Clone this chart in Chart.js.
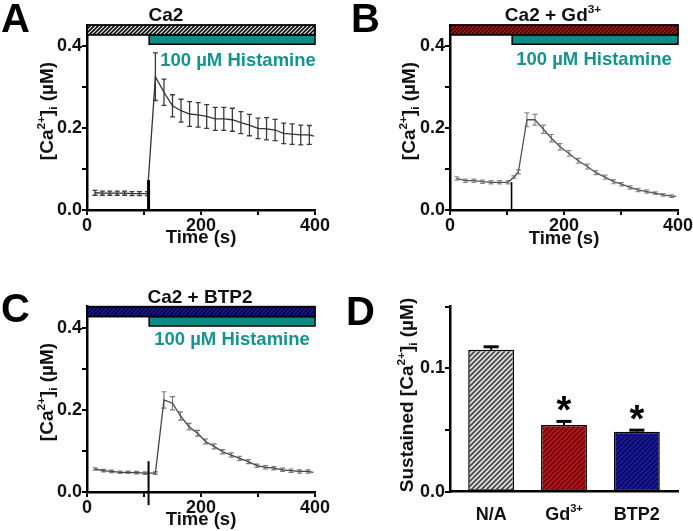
<!DOCTYPE html>
<html><head><meta charset="utf-8">
<script src="https://cdn.jsdelivr.net/npm/chart.js@4.4.0/dist/chart.umd.min.js"></script>
<style>
html,body{margin:0;padding:0;background:#fff;}
#wrap{position:relative;width:693px;height:531px;overflow:hidden;background:#fff;}
canvas{position:absolute;}
</style></head><body>
<div id="wrap">
<canvas id="cA" width="346" height="265" style="left:0;top:0;width:346px;height:265px"></canvas>
<canvas id="cB" width="347" height="265" style="left:346px;top:0;width:347px;height:265px"></canvas>
<canvas id="cC" width="346" height="266" style="left:0;top:265px;width:346px;height:266px"></canvas>
<canvas id="cD" width="347" height="266" style="left:346px;top:265px;width:347px;height:266px"></canvas>
</div>
<script>
// ---------------- DATA ----------------
const xTickLabels = [0, 200, 400];
const yTickLabelsTrace = [0.0, 0.2, 0.4];
const yTickLabelsBar = [0.0, 0.1];

// Panel A: Ca2
const timeA = [14,27,40,53,66,79,92,106,120,135,150,165,180,195,210,225,240,255,270,285,300,315,330,345,360,375,390,398];
const caA   = [0.042,0.041,0.041,0.041,0.041,0.040,0.040,0.040,0.325,0.287,0.254,0.242,0.234,0.232,0.228,0.222,0.222,0.220,0.213,0.207,0.199,0.198,0.195,0.187,0.185,0.183,0.183,0.180];
const errA  = [0.006,0.005,0.005,0.005,0.005,0.005,0.005,0.005,0.058,0.032,0.027,0.028,0.030,0.030,0.029,0.028,0.028,0.028,0.027,0.026,0.025,0.027,0.026,0.025,0.025,0.024,0.023,0];

// Panel B: Ca2 + Gd3+
const timeB = [12,27,42,57,72,87,102,112,120,135,149,164,178,193,209,225,241,256,272,287,301,316,330,345,360,374,389,397];
const caB   = [0.077,0.0715,0.0715,0.069,0.0675,0.0675,0.0675,0.080,0.093,0.220,0.220,0.197,0.175,0.154,0.138,0.120,0.106,0.091,0.080,0.069,0.063,0.055,0.049,0.045,0.041,0.037,0.034,0.033];
const errB  = [0.004,0.004,0.004,0.004,0.004,0.004,0.004,0.003,0.005,0.017,0.013,0.010,0.009,0.008,0.007,0.006,0.006,0.005,0.005,0.005,0.004,0.004,0.004,0.004,0.003,0.003,0.003,0];

// Panel C: Ca2 + BTP2
const timeC = [14,29,43,58,72,87,102,120,135,150,164,179,194,208,223,238,253,268,283,298,313,328,343,358,373,388,397];
const caC   = [0.056,0.052,0.050,0.048,0.048,0.047,0.046,0.046,0.224,0.216,0.185,0.159,0.143,0.123,0.111,0.098,0.090,0.082,0.074,0.064,0.060,0.058,0.054,0.052,0.050,0.050,0.048];
const errC  = [0.003,0.003,0.003,0.003,0.003,0.003,0.003,0.003,0.020,0.016,0.010,0.008,0.007,0.006,0.006,0.005,0.005,0.005,0.005,0.004,0.004,0.004,0.004,0.004,0.004,0.004,0];

// Panel D: sustained
const categoriesD = ['N/A', 'Gd3+', 'BTP2'];
const sustainedD  = [0.115, 0.054, 0.0487];
const sustainedErr = [0.0025, 0.003, 0.0012];
const significantD = [false, true, true];

// protocol (time in s, concentration axis units)
const protocolStart = 0, protocolEnd = 400, histamineStart = 109, additionTime = 108;

// ---------------- HELPERS ----------------
const FONT = '"Liberation Sans", Arial, Helvetica, sans-serif';
const TEAL = '#0f8a84';
const TEAL_TEXT = '#17938d';
Chart.defaults.font.family = FONT;

function hatch(canvasId, bg, fg, size, lw) {
  const t = document.createElement('canvas');
  t.width = size; t.height = size;
  const g = t.getContext('2d');
  g.fillStyle = bg; g.fillRect(0, 0, size, size);
  g.strokeStyle = fg; g.lineWidth = lw; g.lineCap = 'square';
  g.beginPath();
  g.moveTo(-1, size + 1); g.lineTo(size + 1, -1);
  g.moveTo(-size / 2 - 1, size / 2 + 1); g.lineTo(size / 2 + 1, -size / 2 - 1);
  g.moveTo(size / 2 - 1, size * 1.5 + 1); g.lineTo(size * 1.5 + 1, size / 2 - 1);
  g.stroke();
  return document.getElementById(canvasId).getContext('2d').createPattern(t, 'repeat');
}

// segs: [text, mode]  mode 0 normal, 1 superscript, -1 subscript
function drawRich(c, segs, x, y, size, color, align) {
  const small = size * 0.62;
  let w = 0;
  segs.forEach(s => { c.font = 'bold ' + (s[1] ? small : size) + 'px ' + FONT; w += c.measureText(s[0]).width; });
  let cx = align === 'center' ? x - w / 2 : (align === 'right' ? x - w : x);
  c.fillStyle = color; c.textAlign = 'left'; c.textBaseline = 'alphabetic';
  segs.forEach(s => {
    c.font = 'bold ' + (s[1] ? small : size) + 'px ' + FONT;
    const dy = s[1] === 1 ? -size * 0.42 : (s[1] === -1 ? size * 0.22 : 0);
    c.fillText(s[0], cx, y + dy);
    cx += c.measureText(s[0]).width;
  });
}
function drawRotRich(c, segs, x, y, size, color) {
  c.save(); c.translate(x, y); c.rotate(-Math.PI / 2);
  drawRich(c, segs, 0, 0, size, color, 'center');
  c.restore();
}
function isLabel(list, v) { return list.find(l => Math.abs(l - v) < 1e-6); }

const yTitleSegs = [['[Ca', 0], ['2+', 1], [']', 0], ['i', -1], [' (\u00B5M)', 0]];

function axisCommon() {
  return {
    grid: { display: true, drawOnChartArea: false, drawTicks: true, tickLength: 5, lineWidth: 2, tickWidth: 2, color: '#000', tickColor: '#000' },
    border: { display: true, color: '#000', width: 2.5 }
  };
}

function tracePanel(cfg) {
  const decor = {
    id: 'decor' + cfg.id,
    beforeDatasetsDraw(chart) {
      const c = chart.ctx, xs = chart.scales.x, ys = chart.scales.y;
      c.save();
      c.strokeStyle = cfg.errColor; c.lineWidth = cfg.errWidth;
      cfg.t.forEach((t, i) => {
        const e = cfg.e[i]; if (!e) return;
        const x = xs.getPixelForValue(t);
        const y1 = ys.getPixelForValue(cfg.v[i] - e), y2 = ys.getPixelForValue(cfg.v[i] + e);
        c.beginPath();
        c.moveTo(x, y1); c.lineTo(x, y2);
        c.moveTo(x - cfg.cap, y1); c.lineTo(x + cfg.cap, y1);
        c.moveTo(x - cfg.cap, y2); c.lineTo(x + cfg.cap, y2);
        c.stroke();
      });
      c.restore();
    },
    afterDraw(chart) {
      const c = chart.ctx, xs = chart.scales.x, ys = chart.scales.y;
      c.save();
      // addition marker
      c.strokeStyle = '#000'; c.lineWidth = cfg.markW;
      c.beginPath();
      c.moveTo(xs.getPixelForValue(additionTime), ys.getPixelForValue(cfg.mark[0]));
      c.lineTo(xs.getPixelForValue(additionTime), ys.getPixelForValue(cfg.mark[1]));
      c.stroke();
      // protocol bars
      const x0 = xs.getPixelForValue(protocolStart), x1 = xs.getPixelForValue(protocolEnd);
      const yT = ys.getPixelForValue(0.451), yM = ys.getPixelForValue(0.427), yB = ys.getPixelForValue(0.404);
      const xh = xs.getPixelForValue(histamineStart);
      c.fillStyle = TEAL; c.fillRect(xh, yM, x1 - xh, yB - yM);
      c.strokeStyle = '#000'; c.lineWidth = 1.5; c.strokeRect(xh, yM, x1 - xh, yB - yM);
      c.fillStyle = cfg.pattern; c.fillRect(x0, yT, x1 - x0, yM - yT);
      c.lineWidth = 1.8; c.strokeRect(x0, yT, x1 - x0, yM - yT);
      // texts
      drawRich(c, cfg.title, cfg.titleX, cfg.titleY, 19, '#111', 'center');
      drawRich(c, [['100 \u00B5M Histamine', 0]], cfg.histX, cfg.histY, 18.5, TEAL_TEXT, 'center');
      drawRich(c, [['Time (s)', 0]], (chart.chartArea.left + chart.chartArea.right) / 2, cfg.timeY, 18.5, '#111', 'center');
      drawRotRich(c, yTitleSegs, cfg.yTitleX, cfg.yTitleY, 19, '#111');
      c.font = 'bold 40px ' + FONT; c.fillStyle = '#000'; c.textAlign = 'left'; c.textBaseline = 'alphabetic';
      c.fillText(cfg.letter, cfg.letterX, cfg.letterY);
      c.restore();
    }
  };
  const ax = axisCommon(), ay = axisCommon();
  return new Chart(document.getElementById(cfg.id), {
    type: 'line',
    data: { datasets: [{ data: cfg.t.map((t, i) => ({ x: t, y: cfg.v[i] })), borderColor: cfg.lineColor, borderWidth: 1.3, pointRadius: 0, tension: 0, fill: false }] },
    options: {
      responsive: false, animation: false, devicePixelRatio: 1,
      layout: { padding: { left: 0, right: cfg.padR, top: cfg.padT, bottom: 0 } },
      plugins: { legend: { display: false }, tooltip: { enabled: false } },
      scales: {
        x: Object.assign(ax, {
          type: 'linear', min: 0, max: 400,
          afterFit: s => { s.height = cfg.xH; },
          ticks: { stepSize: 100, autoSkip: false, maxRotation: 0, padding: 0, color: '#111', font: { size: 18, weight: 'bold' },
                   callback: v => isLabel(xTickLabels, v) !== undefined ? String(v) : '' }
        }),
        y: Object.assign(ay, {
          min: 0, max: 0.451,
          afterFit: s => { s.width = cfg.yW; },
          ticks: { stepSize: 0.1, includeBounds: false, padding: 0, color: '#111', font: { size: 18, weight: 'bold' },
                   callback: v => { const m = isLabel(yTickLabelsTrace, v); return m === undefined ? '' : m.toFixed(1); } }
        })
      }
    },
    plugins: [decor]
  });
}

tracePanel({ id: 'cA', t: timeA, v: caA, e: errA, pattern: hatch('cA', '#ffffff', '#000000', 4, 1.7),
  lineColor: '#333', errColor: '#3a3a3a', errWidth: 1.3, cap: 2.5, mark: [0, 0.073], markW: 3,
  padR: 31, padT: 25, xH: 55, yW: 87,
  title: [['Ca2', 0]], titleX: 166, titleY: 21, histX: 238, histY: 66, timeY: 243,
  yTitleX: 53, yTitleY: 111, letter: 'A', letterX: 1, letterY: 32 });

tracePanel({ id: 'cB', t: timeB, v: caB, e: errB, pattern: hatch('cB', '#d41a1a', '#350000', 4, 1.7),
  lineColor: '#555', errColor: '#8a8a8a', errWidth: 1.2, cap: 2.5, mark: [0, 0.068], markW: 1.6,
  padR: 15, padT: 25, xH: 55, yW: 104,
  title: [['Ca2 + Gd', 0], ['3+', 1]], titleX: 207, titleY: 21, histX: 248, histY: 65, timeY: 244,
  yTitleX: 69, yTitleY: 111, letter: 'B', letterX: 5, letterY: 32 });

tracePanel({ id: 'cC', t: timeC, v: caC, e: errC, pattern: hatch('cC', '#2424b0', '#00003a', 4, 1.7),
  lineColor: '#444', errColor: '#7a7a7a', errWidth: 1.2, cap: 2.5, mark: [-0.032, 0.075], markW: 2,
  padR: 31, padT: 41.7, xH: 39, yW: 87,
  title: [['Ca2 + BTP2', 0]], titleX: 200, titleY: 38, histX: 232, histY: 80, timeY: 260,
  yTitleX: 53, yTitleY: 127, letter: 'C', letterX: 1, letterY: 57 });

// ---------------- PANEL D ----------------
(function () {
  const pats = [hatch('cD', '#e4e4e4', '#4a4a4a', 5, 1.9), hatch('cD', '#c0161c', '#6a0a0d', 5, 1.9), hatch('cD', '#1c1ca8', '#0a0a58', 5, 1.9)];
  const xLabelSegs = [[['N/A', 0]], [['Gd', 0], ['3+', 1]], [['BTP2', 0]]];
  const decor = {
    id: 'decorD',
    afterDatasetsDraw(chart) {
      const c = chart.ctx, xs = chart.scales.x, ys = chart.scales.y;
      c.save();
      c.strokeStyle = '#000';
      sustainedD.forEach((v, i) => {
        const x = xs.getPixelForValue(i);
        const y1 = ys.getPixelForValue(v), y2 = ys.getPixelForValue(v + sustainedErr[i]);
        c.lineWidth = 2; c.beginPath(); c.moveTo(x, y1); c.lineTo(x, y2); c.stroke();
        c.lineWidth = 3; c.beginPath(); c.moveTo(x - 7.5, y2); c.lineTo(x + 7.5, y2); c.stroke();
        if (significantD[i]) {
          c.font = 'bold 38px ' + FONT; c.fillStyle = '#000'; c.textAlign = 'center'; c.textBaseline = 'alphabetic';
          c.fillText('*', x, y2 + 2);
        }
      });
      c.restore();
    },
    afterDraw(chart) {
      const c = chart.ctx, xs = chart.scales.x;
      c.save();
      xLabelSegs.forEach((segs, i) => drawRich(c, segs, xs.getPixelForValue(i), 255, 18, '#111', 'center'));
      drawRotRich(c, [['Sustained ', 0]].concat(yTitleSegs), 67, 130, 19, '#111');
      c.font = 'bold 40px ' + FONT; c.fillStyle = '#000'; c.textAlign = 'left'; c.textBaseline = 'alphabetic';
      c.fillText('D', 0, 60);
      c.restore();
    }
  };
  const ay = axisCommon();
  new Chart(document.getElementById('cD'), {
    type: 'bar',
    data: { datasets: [{ data: sustainedD.map((v, i) => ({ x: i, y: v })), backgroundColor: pats, borderColor: '#000', borderWidth: 1.5, borderSkipped: false,
      barPercentage: 0.63, categoryPercentage: 1 }] },
    options: {
      responsive: false, animation: false, devicePixelRatio: 1,
      layout: { padding: { left: 0, right: 15, top: 41.7, bottom: 0 } },
      plugins: { legend: { display: false }, tooltip: { enabled: false } },
      scales: {
        x: { type: 'linear', min: -0.565, max: 2.565, offset: false,
          afterFit: s => { s.height = 39.3; },
          ticks: { display: false },
          grid: { display: true, drawOnChartArea: false, drawTicks: false, color: '#000' },
          border: { display: true, color: '#000', width: 2.5 } },
        y: Object.assign(ay, {
          min: 0, max: 0.15,
          afterFit: s => { s.width = 104; },
          ticks: { stepSize: 0.05, includeBounds: false, padding: 0, color: '#111', font: { size: 18, weight: 'bold' },
                   callback: v => { const m = isLabel(yTickLabelsBar, v); return m === undefined ? '' : m.toFixed(1); } }
        })
      }
    },
    plugins: [decor]
  });
})();
</script>
</body></html>
